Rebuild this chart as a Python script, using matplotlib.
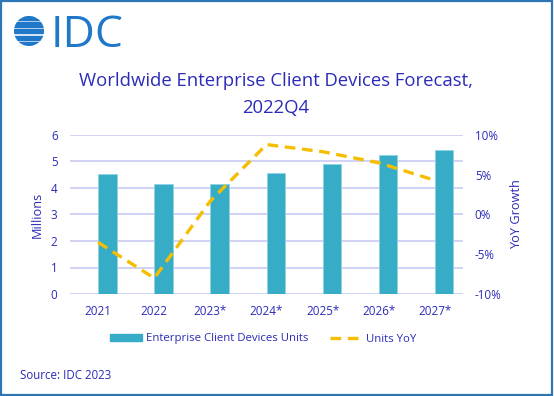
import matplotlib
matplotlib.use("Agg")
import matplotlib.pyplot as plt
from matplotlib.patches import Rectangle, Patch, Circle
from matplotlib.lines import Line2D
import numpy as np

categories = ["2021", "2022", "2023*", "2024*", "2025*", "2026*", "2027*"]
units_millions = [4.52, 4.16, 4.16, 4.55, 4.90, 5.23, 5.43]
yoy_growth_pct = [-3.5, -8.0, 1.7, 8.8, 7.9, 6.5, 4.3]

TXT = "#2B2BB8"
BAR = "#36ACC6"
LINE = "#F5BE00"
GRID = "#C9C9F2"
LOGO = "#1F78C8"

plt.rcParams['font.family'] = ['Open Sans', 'DejaVu Sans']

fig = plt.figure(figsize=(5.54, 3.96), dpi=100)
W, H = 554, 396

def fx(px):
    return px / W

def fy(py):
    return 1 - py / H

ax = fig.add_axes([fx(70), fy(294), fx(463) - fx(70), fy(135) - fy(294)])
x = np.arange(len(categories))
ax.bar(x, units_millions, width=0.33, align='edge', color=BAR, edgecolor="#8FD3E3",
       linewidth=0.6, zorder=3)
ax.set_xlim(-0.5, len(categories) - 0.5)
ax.set_ylim(0, 6)
ax.set_yticks(range(0, 7))
ax.grid(axis='y', color=GRID, linewidth=1.2, zorder=0)
for s in ax.spines.values():
    s.set_visible(False)
ax.tick_params(axis='both', length=0, colors=TXT, labelsize=8.4)
ax.tick_params(axis='y', pad=9)
ax.tick_params(axis='x', pad=8)
ax.set_xticks(x)
ax.set_xticklabels(categories)
ax.set_ylabel("Millions", color=TXT, fontsize=9.2, labelpad=5)

ax2 = ax.twinx()
ax2.plot(x, yoy_growth_pct, color=LINE, linewidth=2.4, linestyle=(0, (3.2, 2.0)), zorder=4)
ax2.set_ylim(-10, 10)
ax2.set_yticks([-10, -5, 0, 5, 10])
ax2.set_yticklabels(["-10%", "-5%", "0%", "5%", "10%"])
for s in ax2.spines.values():
    s.set_visible(False)
ax2.tick_params(axis='y', length=0, colors=TXT, labelsize=8.4, pad=8.5)
ax2.set_ylabel("YoY Growth", color=TXT, fontsize=9.2, labelpad=6)

fig.text(fx(276), fy(86), "Worldwide Enterprise Client Devices Forecast,", ha='center', va='baseline',
         color=TXT, fontsize=13.3)
fig.text(fx(276), fy(113), "2022Q4", ha='center', va='baseline', color=TXT, fontsize=13.3)

handles = [Patch(facecolor=BAR, edgecolor=BAR),
           Line2D([0], [0], color=LINE, linewidth=2.4, linestyle=(0, (3.2, 2.0)))]
leg = fig.legend(handles, ["Enterprise Client Devices Units", "Units YoY"], loc='center',
                 bbox_to_anchor=(fx(263), fy(339)), ncol=2, frameon=False, fontsize=8.2,
                 handlelength=2.8, handleheight=0.55, columnspacing=1.9, handletextpad=0.35)
for t in leg.get_texts():
    t.set_color(TXT)

fig.text(fx(20), fy(379), "Source: IDC 2023", ha='left', va='baseline', color=TXT, fontsize=8.3)

# IDC logo
fig.text(fx(51), fy(47.3), "IDC", ha='left', va='baseline', color=LOGO, fontsize=32)
lax = fig.add_axes([fx(14), fy(46), fx(30), fy(16) - fy(46)])
lax.set_xlim(-1, 1)
lax.set_ylim(-1, 1)
lax.axis('off')
clip = Circle((0, 0), 1, transform=lax.transData)
stripes = [(-1.0, -0.733), (-0.567, -0.3), (-0.133, 0.133), (0.3, 0.567), (0.733, 1.0)]
for (y0, y1) in stripes:
    r = Rectangle((-1, y0), 2, y1 - y0, color=LOGO)
    lax.add_patch(r)
    r.set_clip_path(clip)

fig.add_artist(Rectangle((0.002, 0.003), 0.995, 0.994, transform=fig.transFigure, fill=False,
                         edgecolor="#2E75B6", linewidth=1.6))

fig.savefig("out.png", dpi=100)
